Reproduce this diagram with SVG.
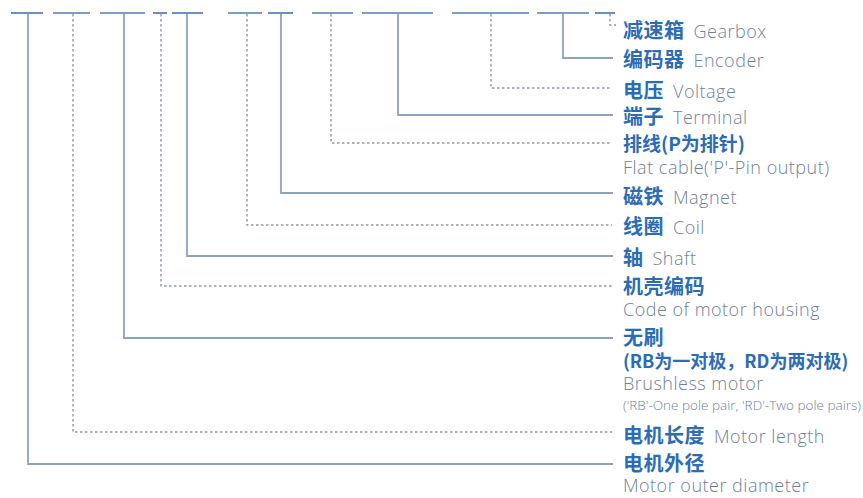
<svg xmlns="http://www.w3.org/2000/svg" width="863" height="498" viewBox="0 0 863 498">
<style>
.bg{fill:#ffffff}
.top{stroke:#4f7db5;stroke-width:1.7;fill:none}
.sol{stroke:#8ea2bf;stroke-width:1.8;fill:none}
.dsh{stroke:#8e98aa;stroke-width:1.4;fill:none;stroke-dasharray:2.5 2.5}
.cn{font-family:"Noto Sans CJK SC","Noto Sans",sans-serif;font-weight:700;font-size:20px;letter-spacing:0.5px;fill:#2b6cb5}
.en{font-family:"Open Sans","Liberation Sans",sans-serif;font-weight:300;font-size:18px;letter-spacing:0.5px;fill:#6f8199}
.sm{font-family:"Open Sans","Liberation Sans",sans-serif;font-weight:300;font-size:13px;fill:#6f8199}
</style>
<rect class="bg" x="0" y="0" width="863" height="498"/>
<g id="connectors">
<g id="top-segments">
<line class="top" x1="11" y1="13" x2="43" y2="13"/>
<line class="top" x1="53" y1="13" x2="90" y2="13"/>
<line class="top" x1="100" y1="13" x2="145" y2="13"/>
<line class="top" x1="153" y1="13" x2="167" y2="13"/>
<line class="top" x1="172" y1="13" x2="203" y2="13"/>
<line class="top" x1="228" y1="13" x2="262" y2="13"/>
<line class="top" x1="268" y1="13" x2="293" y2="13"/>
<line class="top" x1="312" y1="13" x2="353" y2="13"/>
<line class="top" x1="362" y1="13" x2="433" y2="13"/>
<line class="top" x1="452" y1="13" x2="529" y2="13"/>
<line class="top" x1="537" y1="13" x2="589" y2="13"/>
<line class="top" x1="595" y1="13" x2="615" y2="13"/>
</g>
<path class="sol" d="M28 14V464H613"/>
<path class="dsh" d="M73 14V432H612"/>
<path class="sol" d="M124 14V338H613"/>
<path class="dsh" d="M161 14V286H612"/>
<path class="sol" d="M187 14V256H613"/>
<path class="dsh" d="M247 14V225H612"/>
<path class="sol" d="M281 14V193H613"/>
<path class="dsh" d="M331 14V143H612"/>
<path class="sol" d="M398 14V115H613"/>
<path class="dsh" d="M491 14V88H612"/>
<path class="sol" d="M563 14V58H613"/>
<path class="dsh" d="M610 14V25H616"/>
</g>
<g id="gearbox"><text x="623" y="38"><tspan class="cn">减速箱</tspan><tspan class="en" dx="9">Gearbox</tspan></text></g>
<g id="encoder"><text x="623" y="67"><tspan class="cn">编码器</tspan><tspan class="en" dx="9">Encoder</tspan></text></g>
<g id="voltage"><text x="623" y="98"><tspan class="cn">电压</tspan><tspan class="en" dx="9">Voltage</tspan></text></g>
<g id="terminal"><text x="623" y="124"><tspan class="cn">端子</tspan><tspan class="en" dx="9">Terminal</tspan></text></g>
<g id="flat-cable"><text class="cn" x="623" y="151" style="font-size:19px;letter-spacing:0">排线(P为排针)</text><text class="en" x="623" y="174">Flat cable('P'-Pin output)</text></g>
<g id="magnet"><text x="623" y="204"><tspan class="cn">磁铁</tspan><tspan class="en" dx="9">Magnet</tspan></text></g>
<g id="coil"><text x="623" y="234"><tspan class="cn">线圈</tspan><tspan class="en" dx="9">Coil</tspan></text></g>
<g id="shaft"><text x="623" y="265"><tspan class="cn">轴</tspan><tspan class="en" dx="9">Shaft</tspan></text></g>
<g id="housing"><text class="cn" x="623" y="294">机壳编码</text><text class="en" x="623" y="316">Code of motor housing</text></g>
<g id="brushless"><text class="cn" x="623" y="345">无刷</text><text class="cn" x="623" y="368" style="font-size:18px;letter-spacing:0">(RB为一对极，RD为两对极)</text><text class="en" x="623" y="390">Brushless motor</text><text class="sm" x="623" y="410" textLength="238" lengthAdjust="spacingAndGlyphs">('RB'-One pole pair, 'RD'-Two pole pairs)</text></g>
<g id="length"><text x="623" y="443"><tspan class="cn">电机长度</tspan><tspan class="en" dx="9">Motor length</tspan></text></g>
<g id="diameter"><text class="cn" x="623" y="471">电机外径</text><text class="en" x="623" y="492">Motor outer diameter</text></g>
</svg>
